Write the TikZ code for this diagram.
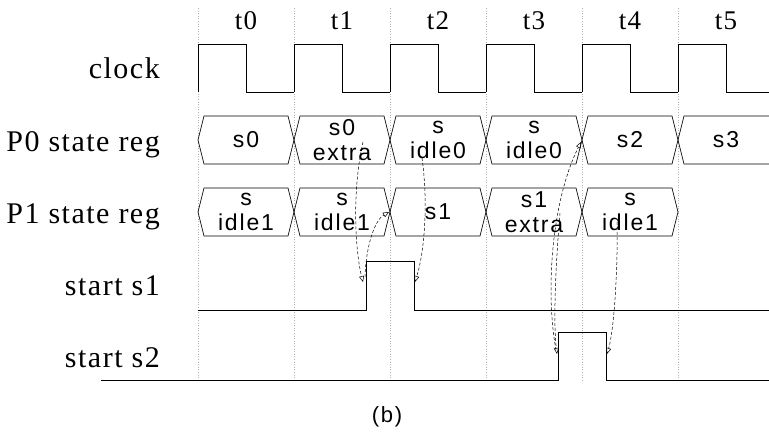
\documentclass[tikz,border=0pt]{standalone}
\usepackage{fontspec}
\setmainfont{Liberation Sans}[LetterSpace=8]
\newfontfamily\wavefont[LetterSpace=5]{Liberation Serif}
\usetikzlibrary{arrows.meta,calc}

\newcommand{\siglab}[1]{{\fontsize{30}{30}\wavefont #1}}
\newcommand{\ticklab}[1]{{\fontsize{27}{27}\wavefont #1}}

\begin{document}
\begin{tikzpicture}[x=1pt,y=-1pt,
  grid/.style={gray!60,dotted,line width=0.6pt},
  wave/.style={line width=0.9pt},
  cell/.style={line width=0.7pt},
  celltext/.style={align=center,inner sep=0pt,
                   font=\fontsize{23}{25}\selectfont},
  namelab/.style={anchor=base east,inner sep=0pt},
  dep/.style={dash pattern=on 3pt off 2pt,line width=0.5pt,
              -{Triangle[open,length=6pt,width=5pt]}}
]
\useasboundingbox (0,0) rectangle (769,436);

% time slots
\foreach \x in {198,294,...,678}
  \draw[grid] (\x,8) -- (\x,380);
\foreach \x [count=\i from 0] in {246,342,...,726}
  \node[anchor=base,inner sep=0pt] (t\i) at (\x,30) {\ticklab{t\i}};

% signal names
\node[namelab] (clk) at (160,78) {\siglab{clock}};
\node[namelab] (pzeroreg) at (160,151) {\siglab{P0 state reg}};
\node[namelab] (ponereg) at (160,223) {\siglab{P1 state reg}};
\node[namelab] (startone) at (160,295) {\siglab{start s1}};
\node[namelab] (starttwo) at (160,367) {\siglab{start s2}};

% clock
\foreach \x in {198,294,...,678}
  \draw[wave] (\x,92) -- (\x,44) -- (\x+48,44) -- (\x+48,92) -- (\x+96,92);

% P0 state reg
\foreach \a/\txt [count=\i] in {198/s0,294/{s0\\extra},390/{s\\idle0},
                                486/{s\\idle0},582/s2}{
  \draw[cell] (\a,140) -- (\a+6,116) -- (\a+90,116) -- (\a+96,140)
              -- (\a+90,164) -- (\a+6,164) -- cycle;
  \node[celltext] (pzero\i) at (\a+48,140) {\txt};
}
\draw[cell] (769,116) -- (684,116) -- (678,140) -- (684,164) -- (769,164);
\node[celltext] (pzero6) at (726,140) {s3};

% P1 state reg
\foreach \a/\txt [count=\i] in {198/{s\\idle1},294/{s\\idle1},390/s1,
                                486/{s1\\extra},582/{s\\idle1}}{
  \draw[cell] (\a,212) -- (\a+6,188) -- (\a+90,188) -- (\a+96,212)
              -- (\a+90,236) -- (\a+6,236) -- cycle;
  \node[celltext] (pone\i) at (\a+48,212) {\txt};
}

% start pulses
\draw[wave] (198,310) -- (366,310) -- (366,261) -- (414,261)
            -- (414,310) -- (769,310);
\draw[wave] (101,380) -- (558,380) -- (558,332) -- (606,332)
            -- (606,380) -- (769,380);

% dependency points
\coordinate (extrazero) at (363,142);
\coordinate (idlezero) at (422,158);
\coordinate (extraone) at (560,213);
\coordinate (idleone) at (617,222);
\coordinate (oneup) at (363,282);
\coordinate (onefrom) at (365,277);
\coordinate (onedown) at (415,282);
\coordinate (twoup) at (557,354);
\coordinate (twofrom) at (556,350);
\coordinate (twodown) at (607,354);
\coordinate (ponechg) at (389,212);
\coordinate (pzerochg) at (581,142);

\draw[dep] (extrazero) .. controls (352,190) and (355,250) .. (oneup);
\draw[dep] (onefrom) .. controls (366,245) and (375,220) .. (ponechg);
\draw[dep] (idlezero) .. controls (428,200) and (425,250) .. (onedown);
\draw[dep] (extraone) .. controls (556,260) and (553,320) .. (twoup);
\draw[dep] (twofrom) .. controls (545,290) and (552,200) .. (pzerochg);
\draw[dep] (idleone) .. controls (618,270) and (614,330) .. (twodown);

\node[anchor=base,inner sep=0pt,font=\fontsize{22}{22}\selectfont]
  (cap) at (387,422) {(b)};
\end{tikzpicture}
\end{document}
